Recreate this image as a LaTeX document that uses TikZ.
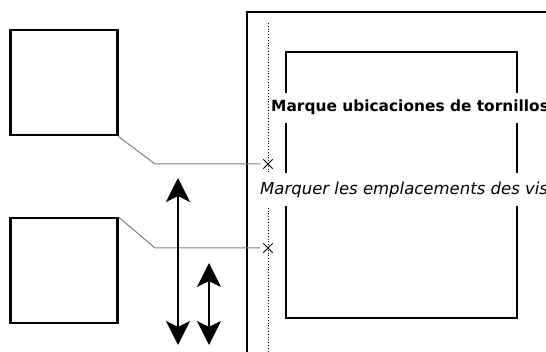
\documentclass[tikz,border=0pt]{standalone}
\usepackage{fontspec}
\setmainfont{DejaVu Sans}
\usetikzlibrary{arrows.meta,shapes.misc}
\tikzset{
  box/.style={draw, line width=2.5pt, rectangle, inner sep=0pt},
  xmark/.style={draw, cross out, line width=0.8pt, minimum size=8.5pt, inner sep=0pt},
  leader/.style={draw=gray, line width=1pt},
  dblarrow/.style={line width=2pt, {Stealth[length=24pt,width=24pt,inset=6pt]}-{Stealth[length=24pt,width=24pt,inset=6pt]}},
  boldlabel/.style={fill=white, anchor=base west, font=\bfseries\fontsize{15.4}{18}\selectfont, inner xsep=1pt, inner ysep=8pt, text height=11pt, text depth=3pt},
  itlabel/.style={fill=white, anchor=base west, font=\itshape\fontsize{16.5}{19}\selectfont, inner xsep=2pt, inner ysep=10pt, text height=12pt, text depth=1pt}
}
\begin{document}
\begin{tikzpicture}[x=1pt,y=-1pt]
\useasboundingbox (0,0) rectangle (546,352);
\clip (0,0) rectangle (546,352);
% left boxes
\node[box, minimum width=107pt, minimum height=105pt, anchor=north west] (b1) at (9,29) {};
\node[box, minimum width=107pt, minimum height=105pt, anchor=north west] (b2) at (9,217) {};
% panel
\coordinate (pbl) at (247,360);
\coordinate (ptl) at (247,12);
\coordinate (ptr) at (560,12);
\draw[line width=2.5pt] (pbl) -- (ptl) -- (ptr);
% inner rectangle
\node[box, minimum width=231pt, minimum height=266pt] (inner) at (401.5,185) {};
% dotted line
\coordinate (dtop) at (268,23);
\coordinate (dbot) at (268,360);
\draw[dotted, line width=0.8pt] (dtop) -- (dbot);
% crosses
\node[xmark] (x1) at (268,164) {};
\node[xmark] (x2) at (268,248) {};
% leaders
\coordinate (k1) at (155,164);
\coordinate (k2) at (155,248);
\draw[leader, shorten >=3pt] (b1.south east) -- (k1) -- (x1.west);
\draw[leader, shorten >=3pt] (b2.north east) -- (k2) -- (x2.west);
% arrows
\coordinate (a1t) at (178,178);
\coordinate (a1b) at (178,345);
\coordinate (a2t) at (209,263);
\coordinate (a2b) at (209,345);
\draw[dblarrow] (a1t) -- (a1b);
\draw[dblarrow] (a2t) -- (a2b);
% labels
\node[boldlabel] (t1) at (270,112) {Marque ubicaciones de tornillos};
\node[itlabel] (t2) at (258,195) {Marquer les emplacements des vis};
\end{tikzpicture}
\end{document}
